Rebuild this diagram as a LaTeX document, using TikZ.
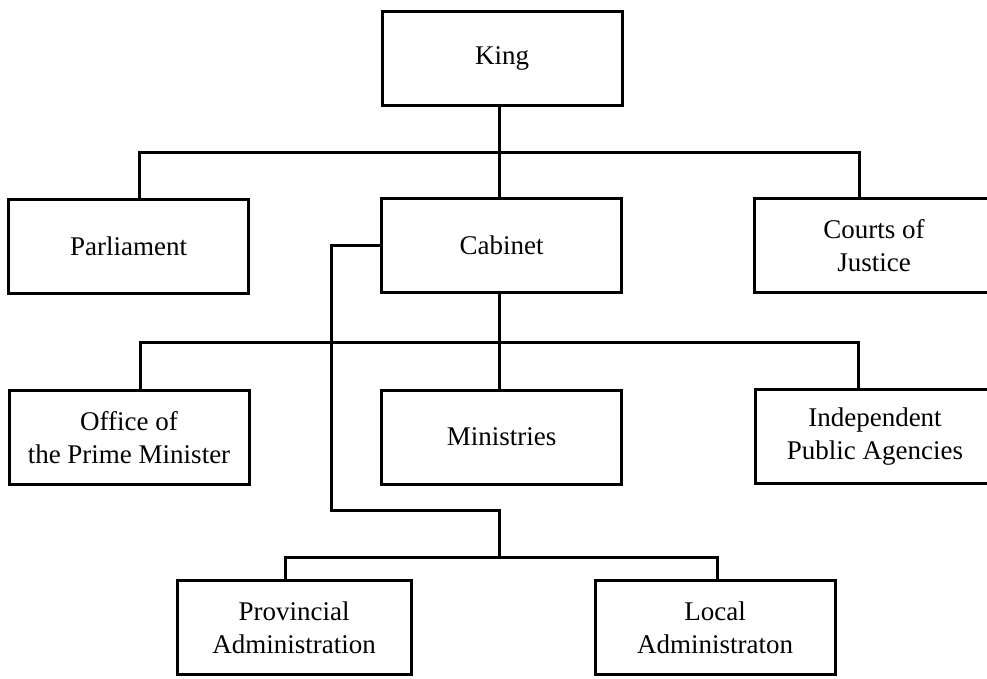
\documentclass[tikz,border=0pt]{standalone}
\usepackage{fontspec}
\setmainfont{Liberation Serif}
\begin{document}
\begin{tikzpicture}[x=1pt,y=-1pt,
  line width=3pt,
  unit/.style={draw, rectangle, minimum width=240pt, minimum height=94pt,
    inner sep=0pt, align=center, font=\fontsize{27}{33}\selectfont},
  link/.style={draw, line cap=rect}]
\useasboundingbox (0,0) rectangle (987,678);
\clip (0,0) rectangle (987,678);

% offices
\node[unit] (King)        at (502,58.5)  {King};
\node[unit] (Parliament)  at (128.5,246.5) {Parliament};
\node[unit] (Cabinet)     at (501.5,245.5) {Cabinet};
\node[unit] (Courts)      at (874,245.5) {Courts of\\Justice};
\node[unit] (Office)      at (129,437.5) {Office of\\the Prime Minister};
\node[unit] (Ministries)  at (501.5,437) {Ministries};
\node[unit] (Agencies)    at (875,436.5) {Independent\\Public Agencies};
\node[unit, minimum width=234pt] (Provincial) at (294,627.5) {Provincial\\Administration};
\node[unit] (Local)       at (715,627.5) {Local\\Administraton};

% branch points of the bus lines
\coordinate (busAl) at (139,152);
\coordinate (busAr) at (859,152);
\coordinate (busBl) at (140,342);
\coordinate (busBr) at (858,342);
\coordinate (busCl) at (285,557);
\coordinate (busCr) at (717,557);
\coordinate (loopA) at (331,245.5);
\coordinate (loopB) at (331,510);
\coordinate (loopC) at (499,510);
\coordinate (loopD) at (499,557);

% King to the three powers
\draw[link] (King.south -| loopC) -- (Cabinet.north -| loopC);
\draw[link] (Parliament.north -| busAl) |- (busAr) -- (Courts.north -| busAr);

% Cabinet to its bodies
\draw[link] (Cabinet.south -| loopC) -- (Ministries.north -| loopC);
\draw[link] (Office.north -| busBl) |- (busBr) -- (Agencies.north -| busBr);

% Cabinet to regional administration
\draw[link] (Cabinet.west) -- (loopA) -- (loopB) -- (loopC) -- (loopD);
\draw[link] (Provincial.north -| busCl) |- (busCr) -- (Local.north -| busCr);
\end{tikzpicture}
\end{document}
